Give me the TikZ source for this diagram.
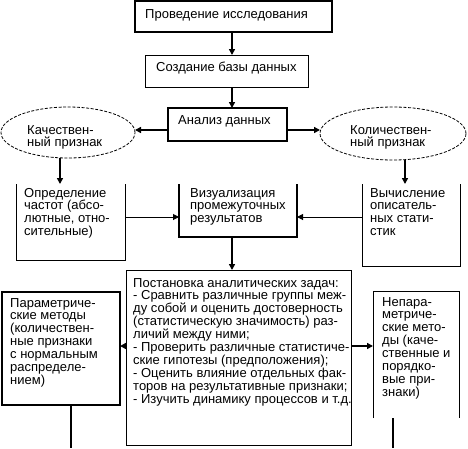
\documentclass[tikz,border=0pt]{standalone}
\usepackage{fontspec}
\setmainfont{Liberation Sans}
\usetikzlibrary{arrows.meta,calc,shapes.geometric}
\begin{document}
\begin{tikzpicture}[x=1pt,y=-1pt,
  every node/.style={font=\fontsize{13}{12.9}\selectfont},
  frame/.style={inner sep=0pt, outer sep=0pt, anchor=north west},
  thinframe/.style={frame, draw, line width=1pt},
  txt/.style={anchor=base west, align=left, inner sep=0pt},
  oval/.style={ellipse, draw, dash pattern=on 3pt off 1.6pt, line width=0.8pt, inner sep=0pt, outer sep=0pt},
  arr/.style={line width=2pt, -{Triangle[length=6pt,width=6pt]}},
  tarr/.style={line width=1pt, -{Triangle[length=6pt,width=6pt]}},
  stem/.style={line width=2pt},
  open/.style={line width=1pt}]
\useasboundingbox (0,0) rectangle (468,448);

% frames
\node[frame, draw, line width=2pt, minimum width=197pt, minimum height=31pt] (fTop) at (135,1) {};
\node[thinframe, minimum width=163pt, minimum height=32pt] (fDb) at (145,55) {};
\node[frame, draw, line width=1.6pt, minimum width=119pt, minimum height=33pt] (fAn) at (168,108) {};
\node[oval, minimum width=134pt, minimum height=51pt] (eL) at (68,132.5) {};
\node[oval, minimum width=146pt, minimum height=53pt] (eR) at (393,133.5) {};
\node[frame, minimum width=109pt, minimum height=76pt] (fDef) at (16,184) {};
\node[frame, minimum width=118pt, minimum height=53pt] (fVis) at (179,184) {};
\node[frame, minimum width=98pt, minimum height=82pt] (fVych) at (362,184) {};
\node[thinframe, minimum width=225pt, minimum height=175pt] (fBig) at (126,270) {};
\node[frame, draw, line width=1.3pt, minimum width=118pt, minimum height=113pt] (fPar) at (2,292) {};
\node[frame, minimum width=86pt, minimum height=127pt] (fNon) at (373,291) {};

% open frames
\draw[open] (fDef.north west) -- (fDef.south west) -- (fDef.south east) -- (fDef.north east);
\draw[open, line width=1.4pt] (fVis.north west) -- (fVis.south west) -- (fVis.south east) -- (fVis.north east);
\draw[open] (fVych.north west) -- (fVych.south west) -- (fVych.south east) -- (fVych.north east);
\draw[open] (fNon.south west) -- (fNon.north west) -- (fNon.north east) -- (fNon.south east);

% texts (base = baseline of last line)
\node[txt] (tTop) at (145,18) {Проведение исследования};
\node[txt] (tDb) at (156,71) {Создание базы данных};
\node[txt] (tAn) at (178,124) {Анализ данных};
\node[txt] (tL) at (27,146.9) {Качествен-\\ный признак};
\node[txt] (tR) at (350,146.9) {Количествен-\\ный признак};
\node[txt] (tDef) at (24,235.7) {Определение\\частот (абсо-\\лютные, отно-\\сительные)};
\node[txt] (tVis) at (190,222.8) {Визуализация\\промежуточных\\результатов};
\node[txt] (tVych) at (370,235.7) {Вычисление\\описатель-\\ных стати-\\стик};
\node[txt] (tBig) at (133,403.1) {Постановка аналитических задач:\\- Сравнить различные группы меж-\\ду собой и оценить достоверность\\(статистическую значимость) раз-\\личий между ними;\\- Проверить различные статистиче-\\ские гипотезы (предположения);\\- Оценить влияние отдельных фак-\\торов на результативные признаки;\\- Изучить динамику процессов и т.д.};
\node[txt] (tPar) at (10,384.4) {Параметриче-\\ские методы\\(количествен-\\ные признаки\\с нормальным\\распределе-\\нием)};
\node[txt] (tNon) at (382,396.3) {Непара-\\метриче-\\ские мето-\\ды (каче-\\ственные и\\порядко-\\вые при-\\знаки)};

% connectors
\draw[arr] ([xshift=-1.5pt]fTop.south) -- ([xshift=-1.5pt]fTop.south |- fDb.north);
\draw[arr] ([xshift=5.5pt]fDb.south) -- ([xshift=5.5pt]fDb.south |- fAn.north);
\draw[arr] ([yshift=-5.5pt]fAn.west) -- ([yshift=-5.5pt]fAn.west -| eL.east);
\draw[arr] ([yshift=-5.5pt]fAn.east) -- ([yshift=-5.5pt]fAn.east -| eR.west);
\draw[arr] ([xshift=-8pt]eL.south) -- ([xshift=-8pt]eL.south |- fDef.north);
\draw[arr] ([xshift=12pt]eR.south) -- ([xshift=12pt]eR.south |- fVych.north);
\draw[tarr] ([yshift=5pt]fDef.east) -- ([yshift=5pt]fDef.east -| fVis.west);
\draw[tarr] ([yshift=8pt]fVych.west) -- ([yshift=8pt]fVych.west -| fVis.east);
\draw[arr] ([xshift=-6pt]fVis.south) -- ([xshift=-6pt]fVis.south |- fBig.north);
\draw[arr] ([yshift=11.5pt]fBig.west) -- ([yshift=11.5pt]fBig.west -| fPar.east);
\draw[arr] ([yshift=11.5pt]fBig.east) -- ([yshift=11.5pt]fBig.east -| fNon.west);
\coordinate (endL) at (71,448);
\coordinate (endR) at (393,448);
\draw[stem] (fPar.south -| endL) -- (endL);
\draw[stem] (fNon.south -| endR) -- (endR);
\end{tikzpicture}
\end{document}
